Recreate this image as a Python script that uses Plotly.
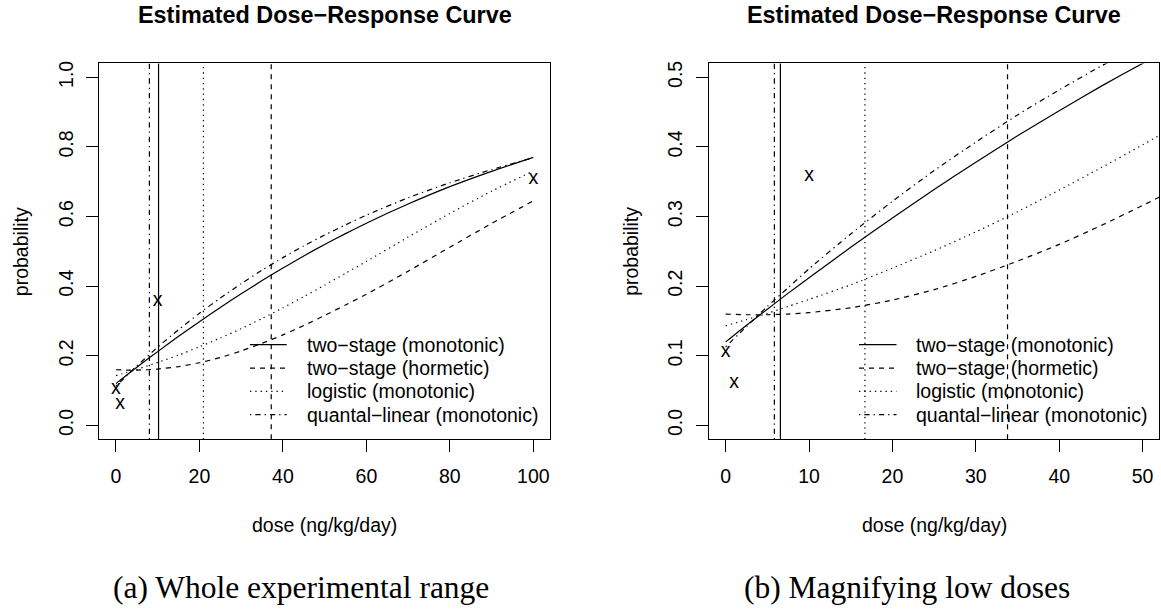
import plotly.graph_objects as go

# ---------------- data ----------------
dose = [0, 2.5, 5, 7.5, 10, 15, 20, 25, 30, 35, 40, 45, 50, 55, 60, 70, 80, 90, 100]
p_two_stage_mono = [0.120, 0.144, 0.167, 0.190, 0.212, 0.256, 0.298, 0.339, 0.378, 0.416,
                    0.452, 0.487, 0.520, 0.551, 0.581, 0.636, 0.686, 0.730, 0.770]
p_two_stage_horm = [0.160, 0.159, 0.159, 0.160, 0.162, 0.169, 0.180, 0.195, 0.214, 0.236,
                    0.260, 0.287, 0.316, 0.346, 0.377, 0.443, 0.512, 0.580, 0.645]
p_logistic = [0.143, 0.152, 0.161, 0.171, 0.181, 0.202, 0.226, 0.251, 0.278, 0.307,
              0.338, 0.370, 0.403, 0.437, 0.471, 0.541, 0.609, 0.673, 0.731]
p_quantal = [0.113, 0.142, 0.171, 0.198, 0.225, 0.275, 0.322, 0.366, 0.407, 0.446,
             0.482, 0.516, 0.547, 0.576, 0.604, 0.654, 0.697, 0.735, 0.769]

obs_dose = [0, 1, 10, 100]
obs_prob = [0.105, 0.061, 0.358, 0.708]

series_names = ["two−stage (monotonic)", "two−stage (hormetic)",
                "logistic (monotonic)", "quantal−linear (monotonic)"]

# benchmark doses (vertical lines), per panel, same order as series
bmd_whole = [10.2, 37.2, 20.95, 8.0]
bmd_low = [6.56, 33.8, 16.7, 5.84]

x_ticks_whole = [0, 20, 40, 60, 80, 100]
y_ticks_whole = [0.0, 0.2, 0.4, 0.6, 0.8, 1.0]
x_ticks_low = [0, 10, 20, 30, 40, 50]
y_ticks_low = [0.0, 0.1, 0.2, 0.3, 0.4, 0.5]

title_text = "Estimated Dose−Response Curve"
x_title = "dose (ng/kg/day)"
y_title = "probability"
captions = ["(a) Whole experimental range", "(b) Magnifying low doses"]

# ---------------- styling ----------------
W, H = 1161, 611
FONT = "Liberation Sans, Arial, Helvetica, sans-serif"
SERIF = "Liberation Serif, Times New Roman, serif"
FS = 19.5
dashes = ["solid", "5px,5px", "1.3px,4px", "1.3px,4px,5.3px,4px"]
curves = [p_two_stage_mono, p_two_stage_horm, p_logistic, p_quantal]
LW = 1.2

# panel pixel boxes (left, right, top, bottom)
panels = [(99.3, 550.0, 60.7, 438.5), (709.0, 1159.3, 60.7, 438.5)]


def px_x(v):
    return v / W


def px_y(v):
    return (H - v) / H


fig = go.Figure()

axis_ids = [("x", "y"), ("x2", "y2")]
for (xa, ya) in axis_ids:
    for name, yv, dsh in zip(series_names, curves, dashes):
        fig.add_trace(go.Scatter(
            x=dose, y=yv, mode="lines", name=name, xaxis=xa, yaxis=ya,
            line=dict(color="black", width=LW, dash=dsh, shape="spline", smoothing=0.6),
            showlegend=False, hoverinfo="skip"))
    fig.add_trace(go.Scatter(
        x=obs_dose, y=obs_prob, mode="text", text=["x"] * len(obs_dose),
        textposition="middle center", xaxis=xa, yaxis=ya, name="observed",
        textfont=dict(family=FONT, size=FS, color="black"),
        showlegend=False, hoverinfo="skip"))

shapes = []
for (xa, ya), bmds in zip(axis_ids, [bmd_whole, bmd_low]):
    for v, dsh in zip(bmds, dashes):
        shapes.append(dict(type="line", xref=xa, yref=f"{ya} domain", x0=v, x1=v, y0=0, y1=1,
                           line=dict(color="black", width=LW, dash=dsh), layer="above"))

annotations = []
legend_rows = [343.3, 366.9, 390.3, 413.7]
legend_geo = [(250.0, 286.7, 304.5), (859.0, 896.5, 914.0)]
for (l, r, t, b), (s0, s1, tx), cap, capx in zip(panels, legend_geo, captions, [300.5, 907.0]):
    cx = (l + r) / 2
    annotations.append(dict(text=f"<b>{title_text}</b>", x=px_x(cx), y=px_y(12.5), xref="paper", yref="paper",
                            showarrow=False, xanchor="center", yanchor="middle",
                            font=dict(family=FONT, size=23.4, color="black")))
    annotations.append(dict(text=x_title, x=px_x(cx), y=px_y(524.5), xref="paper", yref="paper",
                            showarrow=False, xanchor="center", yanchor="middle",
                            font=dict(family=FONT, size=FS, color="black")))
    annotations.append(dict(text=y_title, x=px_x(l - 77.5), y=px_y((t + b) / 2), xref="paper", yref="paper",
                            showarrow=False, xanchor="center", yanchor="middle", textangle=-90,
                            font=dict(family=FONT, size=FS, color="black")))
    annotations.append(dict(text=cap, x=px_x(capx), y=px_y(587), xref="paper", yref="paper",
                            showarrow=False, xanchor="center", yanchor="middle",
                            font=dict(family=SERIF, size=31.5, color="black")))
    for name, dsh, ry in zip(series_names, dashes, legend_rows):
        shapes.append(dict(type="line", xref="paper", yref="paper", x0=px_x(s0), x1=px_x(s1),
                           y0=px_y(ry), y1=px_y(ry), line=dict(color="black", width=LW, dash=dsh)))
        annotations.append(dict(text=name, x=px_x(tx), y=px_y(ry), xref="paper", yref="paper",
                                showarrow=False, xanchor="left", yanchor="middle",
                                font=dict(family=FONT, size=FS, color="black")))


def xaxis_cfg(dom, rng, ticks):
    return dict(domain=dom, range=rng, tickvals=ticks, ticktext=[str(t) for t in ticks],
                ticks="outside", ticklen=12, tickwidth=1, tickcolor="black",
                showline=True, mirror=True, linecolor="black", linewidth=1,
                showgrid=False, zeroline=False, ticklabelstandoff=7,
                tickfont=dict(family=FONT, size=FS, color="black"))


def yaxis_cfg(dom, rng, ticks, anchor):
    return dict(domain=dom, range=rng, tickvals=ticks, ticktext=[f"{t:.1f}" for t in ticks],
                ticks="outside", ticklen=12, tickwidth=1, tickcolor="black", tickangle=-90,
                showline=True, mirror=True, linecolor="black", linewidth=1, anchor=anchor,
                showgrid=False, zeroline=False, ticklabelstandoff=6,
                tickfont=dict(family=FONT, size=FS, color="black"))


ydom = [px_y(panels[0][3]), px_y(panels[0][2])]
fig.update_layout(
    width=W, height=H, margin=dict(l=0, r=0, t=0, b=0),
    paper_bgcolor="white", plot_bgcolor="white", showlegend=False,
    xaxis=xaxis_cfg([px_x(panels[0][0]), px_x(panels[0][1])], [-4, 104], x_ticks_whole) | dict(anchor="y"),
    yaxis=yaxis_cfg(ydom, [-0.04, 1.04], y_ticks_whole, "x"),
    xaxis2=xaxis_cfg([px_x(panels[1][0]), px_x(panels[1][1])], [-2, 52], x_ticks_low) | dict(anchor="y2"),
    yaxis2=yaxis_cfg(ydom, [-0.02, 0.52], y_ticks_low, "x2"),
    shapes=shapes, annotations=annotations,
)

fig.write_html("out.html")
